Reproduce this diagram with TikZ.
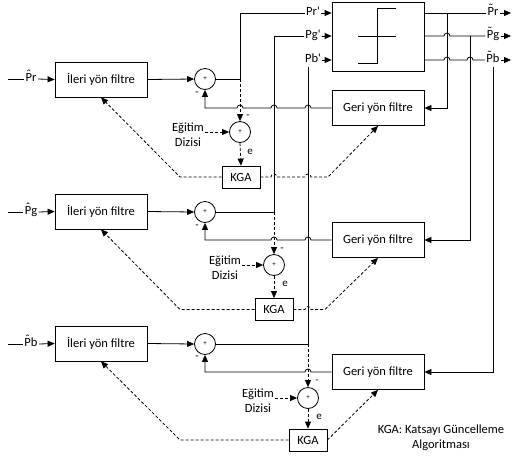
\documentclass[tikz,border=0pt]{standalone}
\usepackage{fontspec}
\setmainfont{Carlito}
\usetikzlibrary{arrows.meta, positioning, calc}
\newcommand{\markover}[2]{\ooalign{#2\cr\hidewidth\raisebox{0.3em}{#1}\hidewidth\cr}}

\begin{document}
\begin{tikzpicture}[x=1pt, y=-1pt,
    line width=0.8pt,
    >={Triangle[length=7pt, width=6pt]},
    block/.style={rectangle, draw, minimum width=92pt, minimum height=35pt, align=center, font=\fontsize{12.5}{14}\selectfont},
    sum/.style={circle, draw, minimum size=21pt, inner sep=0pt, font=\fontsize{7}{8}\selectfont},
    kga/.style={rectangle, draw, minimum width=38pt, minimum height=22pt, font=\fontsize{12.5}{14}\selectfont},
    lbl/.style={inner sep=1pt, text height=8pt, text depth=2.5pt, font=\fontsize{12.5}{14}\selectfont},
    sign/.style={inner sep=0pt, font=\fontsize{11}{12}\selectfont},
    train/.style={align=center, inner sep=1pt, font=\fontsize{12.5}{15}\selectfont},
    dline/.style={dash pattern=on 3pt off 2pt}
]
    \useasboundingbox (0,0) rectangle (515,459);

    % forward filters, sums and feedback filters
    \node[block] (ff1) at (101,79.5) {İleri yön filtre};
    \node[block] (ff2) at (101,211.5) {İleri yön filtre};
    \node[block] (ff3) at (101,343.5) {İleri yön filtre};
    \node[sum] (s1) at (205,79) {+};
    \node[sum] (s2) at (205,212) {+};
    \node[sum] (s3) at (205,344) {+};
    \node[block] (gb1) at (378,108) {Geri yön filtre};
    \node[block] (gb2) at (378,240) {Geri yön filtre};
    \node[block] (gb3) at (378,372) {Geri yön filtre};
    \node[block, minimum height=69pt] (nl) at (378,36.5) {};
    \draw (358,36) -- (396,36);
    \draw (358,63) -- (377,63) -- (377,8) -- (396,8);

    % error sums and KGA blocks
    \node[sum] (e1) at (240,132) {+};
    \node[sum] (e2) at (274,265) {+};
    \node[sum] (e3) at (308,398) {+};
    \node[kga] (k1) at (241,177) {KGA};
    \node[kga] (k2) at (274,309.5) {KGA};
    \node[kga] (k3) at (308,440) {KGA};
    \node[train] (ed1) at (188,134.5) {Eğitim\\Dizisi};
    \node[train] (ed2) at (225,267.5) {Eğitim\\Dizisi};
    \node[train] (ed3) at (258,401) {Eğitim\\Dizisi};

    % inputs
    \node[lbl] (inr) at (31,79) {\markover{ˆ}{P}r};
    \node[lbl] (ing) at (31,212) {\markover{ˆ}{P}g};
    \node[lbl] (inb) at (31,344) {\markover{ˆ}{P}b};
    \coordinate (inrs) at (8,79);
    \coordinate (ings) at (8,212);
    \coordinate (inbs) at (8,344);
    \draw (inrs) -- (inr.west);
    \draw (ings) -- (ing.west);
    \draw (inbs) -- (inb.west);
    \draw[->] (inr.east) -- (ff1.west);
    \draw[->] (ing.east) -- (ff2.west);
    \draw[->] (inb.east) -- (ff3.west);
    \draw[->] (ff1.east) -- (s1.west);
    \draw[->] (ff2.east) -- (s2.west);
    \draw[->] (ff3.east) -- (s3.west);

    % sums to the nonlinear block
    \node[lbl] (prp) at (313,13) {Pr\textquotesingle};
    \node[lbl] (pgp) at (313,36) {Pg\textquotesingle};
    \node[lbl] (pbp) at (313,60) {Pb\textquotesingle};
    \coordinate (j1) at (240,79);
    \coordinate (j2) at (274,212);
    \coordinate (j3) at (308,344);
    \draw (s1.east) -- (j1) |- (prp.west);
    \draw (s2.east) -- (j2) |- (pgp.west);
    \draw (s3.east) -- (j3) -- (j3 |- pbp.south);
    \draw[->] (prp.east) -- (prp.east -| nl.west);
    \draw[->] (pgp.east) -- (pgp.east -| nl.west);
    \draw[->] (pbp.east) -- (pbp.east -| nl.west);

    % outputs
    \node[lbl] (outr) at (493,13) {\markover{˜}{P}r};
    \node[lbl] (outg) at (493,36) {\markover{˜}{P}g};
    \node[lbl] (outb) at (493,60) {\markover{˜}{P}b};
    \coordinate (oendr) at (511,13);
    \coordinate (oendg) at (511,36);
    \coordinate (oendb) at (511,60);
    \draw (nl.east |- outr) -- (outr.west);
    \draw (nl.east |- outg) -- (444,36) arc[start angle=180, end angle=0, radius=3pt] -- (outg.west);
    \draw (nl.east |- outb) -- (444,60) arc[start angle=180, end angle=0, radius=3pt]
        -- (467,60) arc[start angle=180, end angle=0, radius=3pt] -- (outb.west);
    \draw[->] (outr.east) -- (oendr);
    \draw[->] (outg.east) -- (oendg);
    \draw[->] (outb.east) -- (oendb);
    \coordinate (v1) at (447,13);
    \coordinate (v2) at (470,36);
    \draw[->] (v1) |- (gb1.east);
    \draw[->] (v2) |- (gb2.east);
    \draw[->] (outb.south) |- (gb3.east);

    % feedback paths
    \draw[->] (gb1.west) -- (311,108) arc[start angle=0, end angle=180, radius=3pt]
        -- (277,108) arc[start angle=0, end angle=180, radius=3pt]
        -- (243,108) arc[start angle=0, end angle=180, radius=3pt]
        -- (205,108) -- (s1.south);
    \draw[->] (gb2.west) -- (311,240) arc[start angle=0, end angle=180, radius=3pt]
        -- (277,240) arc[start angle=0, end angle=180, radius=3pt]
        -- (205,240) -- (s2.south);
    \draw[->] (gb3.west) -- (311,372) arc[start angle=0, end angle=180, radius=3pt]
        -- (205,372) -- (s3.south);

    % error and adaptation
    \draw[dline,->] (j1) -- (e1.north);
    \draw[dline,->] (j2) -- (e2.north);
    \draw[dline,->] (j3) -- (e3.north);
    \draw[dline,->] (ed1.east |- e1) -- (e1.west);
    \draw[dline,->] (ed2.east |- e2) -- (e2.west);
    \draw[dline,->] (ed3.east |- e3) -- (e3.west);
    \draw[dline,->] (e1.south) -- (k1.north);
    \draw[dline,->] (e2.south) -- (k2.north);
    \draw[dline,->] (e3.south) -- (k3.north);
    \coordinate (c1) at (180,177);
    \coordinate (c2) at (180,309.5);
    \coordinate (c3) at (180,440);
    \draw[dline,->] (k1.west) -- (c1) -- (ff1.south);
    \draw[dline,->] (k2.west) -- (c2) -- (ff2.south);
    \draw[dline,->] (k3.west) -- (c3) -- (ff3.south);
    \draw[dline,->] (k1.east) -- (271,177) arc[start angle=180, end angle=0, radius=3pt]
        -- (305,177) arc[start angle=180, end angle=0, radius=3pt] -- (328,177) -- (gb1.south);
    \draw[dline,->] (k2.east) -- (305,309.5) arc[start angle=180, end angle=0, radius=3pt]
        -- (325,309.5) -- (gb2.south);
    \draw[dline,->] (k3.east) -- (gb3.south);

    % signs
    \node[sign] at (197,94) {-};
    \node[sign] at (197,227) {-};
    \node[sign] at (197,358) {-};
    \node[sign] at (248,117) {-};
    \node[sign] at (282,250) {-};
    \node[sign] at (317,382) {-};
    \node[sign] at (250,152) {e};
    \node[sign] at (285,284) {e};
    \node[sign] at (319,417) {e};

    \node[train] (leg) at (441,437.5) {KGA: Katsayı Güncelleme\\Algoritması};
\end{tikzpicture}
\end{document}
